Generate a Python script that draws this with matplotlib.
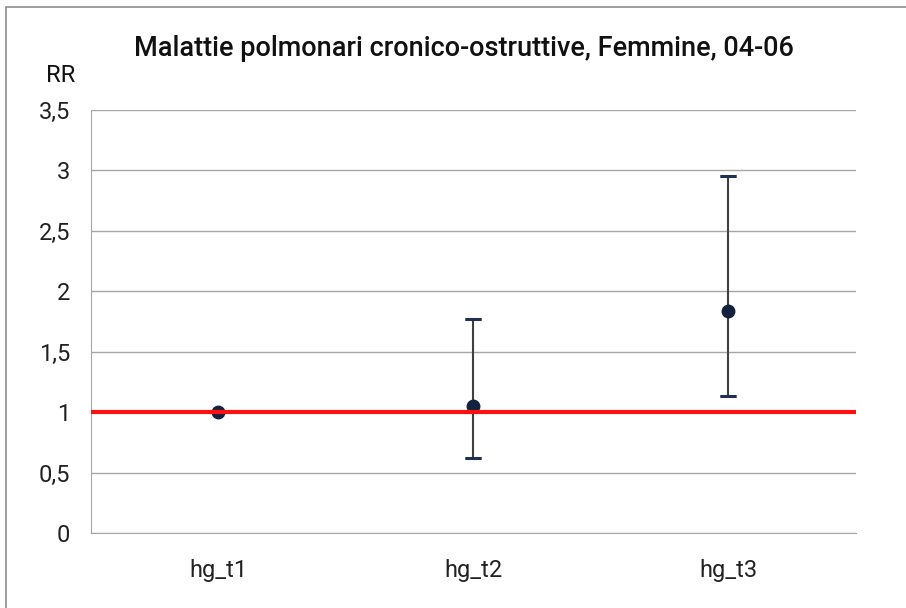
import matplotlib.pyplot as plt
from matplotlib.patches import Rectangle

# data
categories = ["hg_t1", "hg_t2", "hg_t3"]
rr = [1.0, 1.05, 1.84]
lower = [1.0, 0.62, 1.13]
upper = [1.0, 1.77, 2.95]
yticks = [0, 0.5, 1, 1.5, 2, 2.5, 3, 3.5]
ytick_labels = ["0", "0,5", "1", "1,5", "2", "2,5", "3", "3,5"]

plt.rcParams['font.family'] = ['Roboto', 'DejaVu Sans']

fig = plt.figure(figsize=(9.06, 6.08), dpi=100)
ax = fig.add_axes([0.1004, 0.1234, 0.8444, 0.6957])

x = list(range(len(categories)))
err_lo = [v - l for v, l in zip(rr, lower)]
err_hi = [u - v for v, u in zip(rr, upper)]

# whiskers
ax.errorbar(x, rr, yerr=[err_lo, err_hi], fmt='none', ecolor='#404040',
            elinewidth=1.5, capsize=6, capthick=2, zorder=3)
# caps in navy drawn on top
ax.errorbar(x, rr, yerr=[err_lo, err_hi], fmt='none', ecolor='#1f3050',
            elinewidth=0, capsize=6, capthick=2.2, zorder=4)
ax.plot(x, rr, 'o', color='#13233f', markersize=9, zorder=5)

# reference line at RR = 1
ax.axhline(1, color='#ff1010', linewidth=3, zorder=6)

ax.set_xlim(-0.5, 2.5)
ax.set_ylim(0, 3.5)
ax.set_yticks(yticks)
ax.set_yticklabels(ytick_labels)
ax.set_xticks(x)
ax.set_xticklabels(categories)
ax.yaxis.grid(True, color='#a6a6a6', linewidth=1)
ax.set_axisbelow(True)
ax.tick_params(axis='both', length=0, labelsize=17, colors='#222222')
ax.tick_params(axis='y', pad=15)
ax.tick_params(axis='x', pad=19)

for s in ['top', 'right']:
    ax.spines[s].set_visible(False)
ax.spines['left'].set_color('#a6a6a6')
ax.spines['bottom'].set_color('#a6a6a6')

fig.text(0.512, 0.921, "Malattie polmonari cronico-ostruttive, Femmine, 04-06",
         ha='center', va='center', fontsize=19.5, fontweight='medium', color='#111111')
fig.text(0.067, 0.876, "RR", ha='center', va='center', fontsize=17, color='#111111')

# outer chart border
fig.patches.append(Rectangle((0.007, -0.01), 1.0, 0.999, transform=fig.transFigure,
                             fill=False, edgecolor='#8c8c8c', linewidth=1.2))

fig.savefig("out.png", dpi=100)
